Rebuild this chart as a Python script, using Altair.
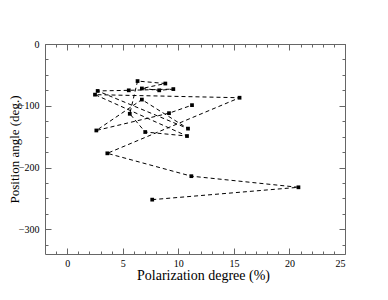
import altair as alt
import pandas as pd

# Data (in drawing order)
pol_degree = [7.65, 20.81, 11.17, 3.61, 15.51, 2.50, 10.78, 7.02, 5.63, 6.33, 8.83,
              6.72, 8.28, 9.55, 5.54, 2.74, 10.87, 6.72, 2.62, 9.16, 11.23]
pos_angle = [-252, -232, -214, -177, -87, -82, -149, -142.5, -113, -60, -64,
             -72, -75, -73, -75, -76, -137, -90, -140, -112, -99]
order = list(range(len(pol_degree)))

x_major = [0, 5, 10, 15, 20, 25]
x_minor = list(range(-1, 25))
y_major = [0, -100, -200, -300]
y_minor = list(range(-325, 1, 25))

df = pd.DataFrame({"p": pol_degree, "a": pos_angle, "i": order})

FONT = "Liberation Serif, Times New Roman, DejaVu Serif, serif"
TICK = "#666666"
xs = alt.Scale(domain=[-2, 25], nice=False, zero=False)
ys = alt.Scale(domain=[-340, 0], nice=False, zero=False)

def ax(orient, values, size, labels=False, title=None, **kw):
    opts = dict(orient=orient, values=values, offset=-size, tickSize=size,
                labels=labels, title=title, domain=False, grid=False,
                tickColor=TICK, tickWidth=1, labelFont=FONT, labelFontSize=10,
                labelColor="black", titleFont=FONT, titleFontSize=14,
                titleFontWeight="normal", titleColor="black")
    opts.update(kw)
    return alt.Axis(**opts)

base = alt.Chart(df)

line = base.mark_line(color="black", strokeWidth=1, strokeDash=[4, 3]).encode(
    x=alt.X("p:Q", scale=xs,
            axis=ax("bottom", x_major, 6, labels=True, title="Polarization degree (%)",
                    labelPadding=4, titlePadding=0, titleX=158)),
    y=alt.Y("a:Q", scale=ys,
            axis=ax("left", y_major, 6, labels=True, title="Position angle (deg.)",
                    labelPadding=6, titleX=-37, titleBaseline="middle",
                    titleFontSize=13)),
    order=alt.Order("i:Q"),
)

points = base.mark_square(color="black", size=14, opacity=1).encode(
    x=alt.X("p:Q", scale=xs, axis=ax("bottom", x_minor, 3)),
    y=alt.Y("a:Q", scale=ys, axis=ax("left", y_minor, 3)),
)

top_major = base.mark_point(opacity=0).encode(
    x=alt.X("p:Q", scale=xs, axis=ax("top", x_major, 6)),
    y=alt.Y("a:Q", scale=ys, axis=ax("right", y_major, 6)),
)

top_minor = base.mark_point(opacity=0).encode(
    x=alt.X("p:Q", scale=xs, axis=ax("top", x_minor, 3)),
    y=alt.Y("a:Q", scale=ys, axis=ax("right", y_minor, 3)),
)

chart = alt.layer(line, points, top_major, top_minor).resolve_axis(
    x="independent", y="independent"
).properties(
    width=300, height=210,
    autosize=alt.AutoSizeParams(type="none"),
    padding={"left": 37, "top": 36, "right": 30, "bottom": 40},
    background="white",
).configure_view(stroke="#666666", strokeWidth=1).configure_axis(
    labelFont=FONT, titleFont=FONT
)

chart.save("out.html", embed_options={"renderer": "svg", "actions": False})
